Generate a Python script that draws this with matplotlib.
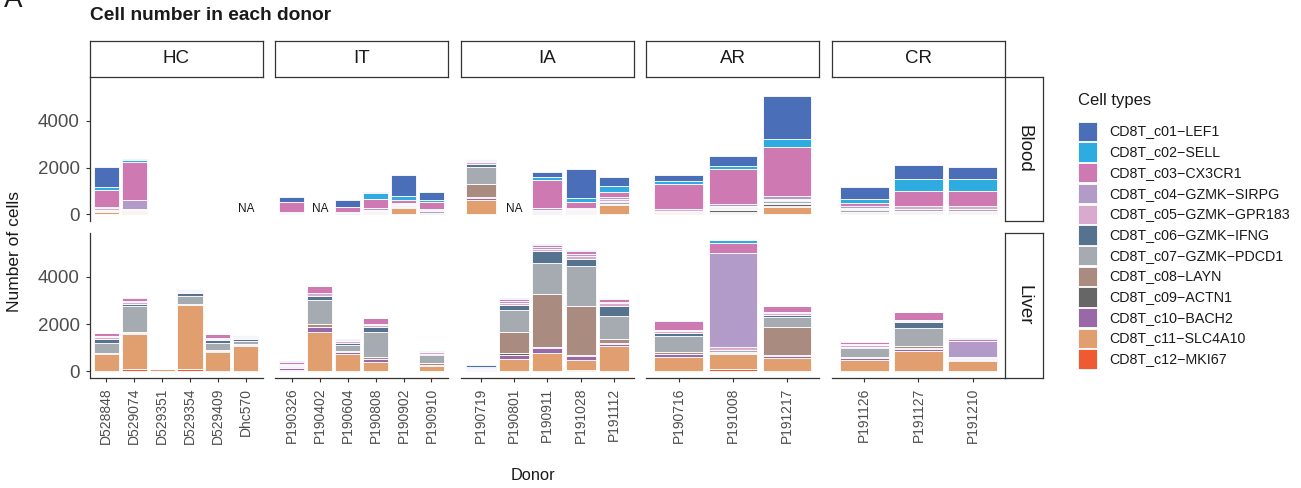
import matplotlib.pyplot as plt
from matplotlib.patches import Rectangle

plt.rcParams['font.family'] = ['Liberation Sans', 'DejaVu Sans']

# Donor groups and donors within each group
groups = ['HC', 'IT', 'IA', 'AR', 'CR']
group_donors = {
    'HC': ['D528848', 'D529074', 'D529351', 'D529354', 'D529409', 'Dhc570'],
    'IT': ['P190326', 'P190402', 'P190604', 'P190808', 'P190902', 'P190910'],
    'IA': ['P190719', 'P190801', 'P190911', 'P191028', 'P191112'],
    'AR': ['P190716', 'P191008', 'P191217'],
    'CR': ['P191126', 'P191127', 'P191210'],
}
tissues = ['Blood', 'Liver']

cell_types = ['CD8T_c01\u2212LEF1', 'CD8T_c02\u2212SELL', 'CD8T_c03\u2212CX3CR1',
              'CD8T_c04\u2212GZMK\u2212SIRPG', 'CD8T_c05\u2212GZMK\u2212GPR183',
              'CD8T_c06\u2212GZMK\u2212IFNG', 'CD8T_c07\u2212GZMK\u2212PDCD1',
              'CD8T_c08\u2212LAYN', 'CD8T_c09\u2212ACTN1', 'CD8T_c10\u2212BACH2',
              'CD8T_c11\u2212SLC4A10', 'CD8T_c12\u2212MKI67']
colors = ['#4A6EB7', '#2EACE1', '#CE79B1', '#B29BC9', '#D9A9CE', '#55728F',
          '#A6ABB1', '#A98B7F', '#666666', '#9868A7', '#E19E6F', '#F05A32']

# cell counts per donor, c01 ... c12 (None = sample not available)
blood_counts = {
    'D528848': [880, 120, 730, 30, 60, 20, 60, 10, 10, 10, 80, 20],
    'D529074': [45, 80, 1600, 380, 40, 10, 40, 10, 10, 10, 60, 60],
    'D529351': [0, 0, 3, 1, 2, 0, 2, 0, 0, 0, 6, 1],
    'D529354': [0, 0, 4, 1, 2, 1, 3, 0, 0, 0, 8, 1],
    'D529409': [0, 0, 3, 1, 2, 0, 2, 0, 0, 0, 5, 0],
    'Dhc570': None,
    'P190326': [220, 20, 420, 20, 20, 5, 20, 5, 5, 5, 20, 0],
    'P190402': None,
    'P190604': [300, 30, 210, 20, 30, 5, 20, 5, 0, 5, 10, 0],
    'P190808': [60, 230, 420, 60, 60, 10, 40, 10, 10, 10, 50, 10],
    'P190902': [890, 190, 110, 30, 60, 20, 60, 20, 10, 10, 260, 20],
    'P190910': [340, 100, 280, 40, 60, 20, 60, 10, 10, 10, 30, 10],
    'P190719': [20, 10, 60, 30, 80, 140, 720, 580, 20, 80, 610, 20],
    'P190801': None,
    'P190911': [220, 140, 1210, 80, 50, 20, 50, 10, 10, 10, 20, 10],
    'P191028': [1230, 180, 240, 30, 70, 20, 40, 10, 10, 10, 60, 20],
    'P191112': [350, 290, 200, 80, 90, 20, 90, 20, 10, 30, 380, 20],
    'P190716': [260, 160, 1030, 30, 60, 10, 40, 20, 10, 10, 60, 10],
    'P191008': [430, 120, 1480, 70, 80, 20, 60, 20, 110, 40, 40, 10],
    'P191217': [1860, 320, 2080, 140, 60, 40, 80, 30, 100, 30, 300, 20],
    'P191126': [490, 190, 110, 80, 60, 20, 80, 20, 20, 20, 50, 10],
    'P191127': [600, 490, 630, 40, 90, 20, 90, 20, 30, 20, 60, 10],
    'P191210': [540, 490, 630, 30, 100, 20, 90, 20, 30, 20, 60, 10],
}
liver_counts = {
    'D528848': [10, 10, 130, 20, 90, 180, 400, 30, 10, 40, 700, 20],
    'D529074': [10, 10, 160, 30, 60, 110, 1080, 60, 20, 30, 1480, 90],
    'D529351': [0, 0, 2, 1, 2, 1, 3, 1, 0, 1, 100, 8],
    'D529354': [10, 10, 70, 20, 60, 100, 340, 40, 10, 20, 2700, 100],
    'D529409': [10, 10, 160, 20, 70, 110, 310, 40, 10, 30, 800, 20],
    'Dhc570': [10, 10, 80, 20, 60, 90, 120, 30, 10, 20, 1070, 20],
    'P190326': [10, 10, 100, 30, 60, 20, 40, 10, 10, 50, 70, 10],
    'P190402': [10, 10, 270, 40, 100, 190, 1000, 130, 20, 180, 1660, 20],
    'P190604': [10, 10, 30, 20, 80, 90, 250, 40, 10, 70, 740, 10],
    'P190808': [10, 10, 270, 30, 100, 190, 1050, 80, 20, 110, 400, 10],
    'P190902': [0, 0, 1, 0, 1, 0, 2, 0, 0, 0, 2, 0],
    'P190910': [10, 10, 30, 20, 80, 60, 320, 90, 10, 20, 240, 10],
    'P190719': [100, 20, 30, 20, 40, 20, 20, 10, 5, 5, 10, 0],
    'P190801': [10, 10, 110, 50, 100, 230, 900, 920, 50, 200, 500, 10],
    'P190911': [10, 10, 100, 60, 100, 500, 1330, 2220, 50, 220, 760, 20],
    'P191028': [10, 10, 140, 60, 140, 300, 1680, 2100, 40, 160, 430, 50],
    'P191112': [10, 10, 160, 40, 100, 450, 960, 180, 30, 80, 1060, 20],
    'P190716': [10, 10, 380, 40, 90, 150, 650, 90, 30, 90, 610, 20],
    'P191008': [10, 150, 390, 4000, 110, 30, 80, 30, 20, 40, 630, 90],
    'P191217': [10, 10, 250, 40, 100, 90, 400, 1190, 30, 90, 560, 20],
    'P191126': [10, 10, 120, 30, 80, 60, 360, 40, 20, 60, 480, 10],
    'P191127': [10, 10, 320, 40, 70, 260, 750, 90, 30, 80, 850, 20],
    'P191210': [10, 10, 90, 700, 40, 20, 30, 20, 10, 20, 440, 10],
}
counts = {'Blood': blood_counts, 'Liver': liver_counts}
yticks = [0, 2000, 4000]

W, H = 1301, 488
fig = plt.figure(figsize=(W / 100, H / 100), dpi=100)


def box(x0, y0, x1, y1):
    # pixel box (top-left origin) -> figure fraction rect
    return [x0 / W, 1 - y1 / H, (x1 - x0) / W, (y1 - y0) / H]


axis_col = '#333333'
tick_col = '#4D4D4D'
panel_left, panel_w, gap = 89.5, 173.1, 12.5
row_px = {'Blood': (77, 221), 'Liver': (233, 378)}
ymax = max(sum(v) for d in counts.values() for v in d.values() if v)
pad = ymax * 0.05

for gi, g in enumerate(groups):
    x0 = panel_left + gi * (panel_w + gap)
    donors = group_donors[g]
    n = len(donors)
    # facet strip on top
    sax = fig.add_axes(box(x0, 40.7, x0 + panel_w, 77))
    sax.set_xticks([]); sax.set_yticks([])
    for s in sax.spines.values():
        s.set_color(axis_col); s.set_linewidth(0.9)
    sax.text(0.5, 0.5, g, ha='center', va='center', fontsize=13.5, color='#1A1A1A',
             transform=sax.transAxes)
    for t in tissues:
        y0, y1 = row_px[t]
        ax = fig.add_axes(box(x0, y0, x0 + panel_w, y1))
        for k, d in enumerate(donors):
            vals = counts[t][d]
            if vals is None:
                ax.text(k, 250, 'NA', ha='center', va='center', fontsize=8.5, color='#1A1A1A')
                continue
            base = 0
            # stack from c12 at the bottom up to c01 on top
            for ci in range(len(cell_types) - 1, -1, -1):
                ax.bar(k, vals[ci], bottom=base, width=0.9, color=colors[ci],
                       edgecolor='white', linewidth=0.6)
                base += vals[ci]
        ax.set_xlim(-0.6, n - 1 + 0.6)
        ax.set_ylim(-pad, ymax + pad)
        ax.patch.set_alpha(0)
        for s in ['top', 'right']:
            ax.spines[s].set_visible(False)
        ax.spines['left'].set_visible(gi == 0)
        ax.spines['bottom'].set_visible(t == 'Liver')
        for s in ['left', 'bottom']:
            ax.spines[s].set_color(axis_col); ax.spines[s].set_linewidth(0.9)
        ax.tick_params(color=axis_col, length=3, width=0.8, labelcolor=tick_col)
        if gi == 0:
            ax.set_yticks(yticks)
            ax.set_yticklabels([str(v) for v in yticks], fontsize=13.5)
            ax.tick_params(axis='y', pad=4)
        else:
            ax.set_yticks([])
        if t == 'Liver':
            ax.set_xticks(range(n))
            ax.set_xticklabels(donors, rotation=90, fontsize=10)
            ax.tick_params(axis='x', pad=4)
        else:
            ax.set_xticks([])

# tissue strips on the right
for t in tissues:
    y0, y1 = row_px[t]
    sax = fig.add_axes(box(1005, y0, 1043, y1))
    sax.set_xticks([]); sax.set_yticks([])
    for s in sax.spines.values():
        s.set_color(axis_col); s.set_linewidth(0.9)
    sax.text(0.5, 0.5, t, ha='center', va='center', rotation=270, fontsize=13.5,
             color='#1A1A1A', transform=sax.transAxes)

# overlay in pixel coordinates for titles and legend
ov = fig.add_axes([0, 0, 1, 1])
ov.set_xlim(0, W); ov.set_ylim(H, 0)
ov.axis('off')
ov.patch.set_alpha(0)

ov.text(4, 7, 'A', fontsize=20, ha='left', va='baseline', color='#1A1A1A')
ov.text(90, 16, 'Cell number in each donor', fontsize=13.8, fontweight='bold',
        ha='left', va='center', color='#1A1A1A')
ov.text(15, 252, 'Number of cells', rotation=90, fontsize=12.5, ha='center',
        va='center', color='#1A1A1A')
ov.text(533, 476, 'Donor', fontsize=11.8, ha='center', va='center', color='#1A1A1A')

ov.text(1078, 101, 'Cell types', fontsize=12, ha='left', va='center', color='#1A1A1A')
for i, (name, c) in enumerate(zip(cell_types, colors)):
    ky = 121.7 + i * 20.7
    ov.add_patch(Rectangle((1078.3, ky), 19, 19.3, facecolor=c, edgecolor='white',
                           linewidth=0.6))
    ov.text(1109, ky + 9.8, name, fontsize=10.3, ha='left', va='center', color='#1A1A1A')

fig.savefig('out.png', dpi=100)
